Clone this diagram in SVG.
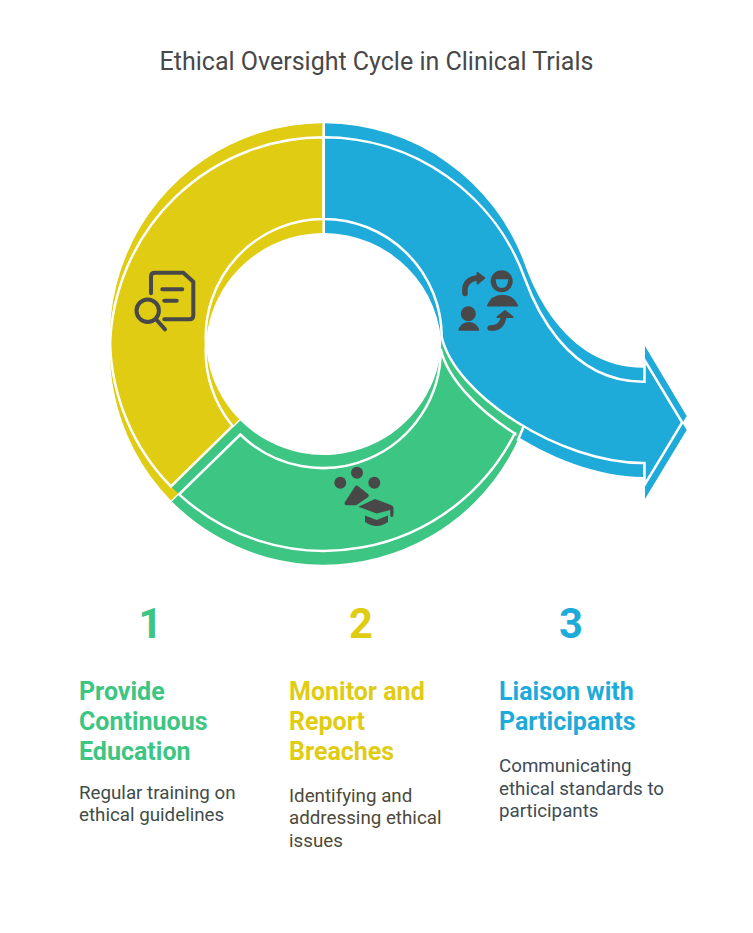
<svg xmlns="http://www.w3.org/2000/svg" width="753" height="933" viewBox="0 0 753 933">
<style>
text{font-family:Roboto,"Liberation Sans",sans-serif}
.t{font-size:25px;fill:#484848;text-anchor:middle}
.n{font-size:41.67px;font-weight:700;text-anchor:middle}
.h{font-size:25px;font-weight:700}
.d{font-size:18.75px}
.o{fill:none;stroke:#fff;stroke-width:2.5}
.y{fill:#DFCC13}.g{fill:#3DC583}.b{fill:#1EABDA}
.il{fill:none;stroke:#484848;stroke-width:4;stroke-linecap:round;stroke-linejoin:round}
.is{fill:#484848}
</style>
<rect width="753" height="933" fill="#fff"/>
<text class="t" x="376.5" y="70">Ethical Oversight Cycle in Clinical Trials</text>
<g id="node-yellow">
<path class="y" d="M322.4,123.3A213.7,213.7 0 0 0 170.9,486.4L239.3,419.5A118,118 0 0 1 322.4,219Z"/>
<path class="y" d="M322.4,137.3A213.7,213.7 0 0 0 170.9,500.4L239.3,433.5A118,118 0 0 1 322.4,233Z"/>
<path class="o" d="M323.7,137.3A213.7,213.7 0 0 0 110.1,344A213.7,213.7 0 0 0 170.9,486.4L232.6,426A118,118 0 0 1 205.9,344A118,118 0 0 1 323.7,219Z"/>
</g>
<g id="node-blue-back">
<path class="b" d="M325,137.3A213.7,213.7 0 0 1 525,279C533,301 565,381.7 643,381.7L643,477C560,477 455,409 441.7,351A118,118 0 0 0 325,233Z"/>
<path class="b" d="M645,360L686.7,430L645,499Z"/>
</g>
<g id="node-green">
<path class="g" d="M171.9,487.4A213.7,213.7 0 0 0 530,392.7L441.7,337A118,118 0 0 1 240.3,420.5Z"/>
<path class="g" d="M171.9,501.4A213.7,213.7 0 0 0 530,406.7L441.7,351A118,118 0 0 1 240.3,434.5Z"/>
<path class="o" d="M525.9,420A213.7,213.7 0 0 1 517.5,441"/>
<path class="o" d="M179.1,494.3A213.7,213.7 0 0 0 515.2,432.5L515.2,433.75C476.9,409.5 447.35,378 440.7,349A118,118 0 0 1 240.3,434.5Z"/>
</g>
<g id="node-blue">
<path class="b" d="M325,123.3A213.7,213.7 0 0 1 525,265C533,287 565,367.7 643,367.7L645,367.7L645,346L686.7,416L645,485L645,463L643,463C560,463 455,395 441.7,337A118,118 0 0 0 325,219Z"/>
<path class="o" d="M323.7,137.3A213.7,213.7 0 0 1 525,279C533,301 565,381.7 643,381.7L644.5,381.7L644.5,360L682.2,422.5L644.5,485L644.5,463L643,463C560,463 455,395 441.7,337A118,118 0 0 0 323.7,219Z"/>
</g>
<g id="icon-document-search">
<path class="il" d="M151,293.3V276.5Q151,272.7 154.8,272.7H183.3L193.3,281.7V315.5Q193.3,319.3 189.5,319.3H164.3"/>
<path class="il" d="M162.3,289.3H182.3M164.3,300.7H176.7M156.7,320L165,329.3"/>
<circle class="il" cx="147.7" cy="310.7" r="11.2"/>
</g>
<g id="icon-exchange">
<path class="il" style="stroke-width:5.5" d="M465,293.5Q463.5,280 476.7,278"/>
<path class="is" stroke="#484848" stroke-width="2" stroke-linejoin="round" d="M477.5,273L484.3,278L477.5,283.5Z"/>
<circle class="is" cx="501.7" cy="281.3" r="11"/>
<path class="b" d="M495.7,279.3H508.3Q508,288 501.7,288Q496,288 495.7,279.3Z"/>
<path class="is" d="M486.7,306Q491,294.7 502.5,294.7Q514,294.7 518.3,306Q518.5,306.5 517,306.5H488Q486.5,306.5 486.7,306Z"/>
<circle class="is" cx="468.3" cy="313.7" r="7.5"/>
<path class="is" d="M458.3,330Q461,322 468.8,322Q476.5,322 479.3,330Q479.5,330.7 478,330.7H459.5Q458,330.7 458.3,330Z"/>
<path class="il" style="stroke-width:5.5" d="M490,328Q502,329 503.8,316"/>
<path class="is" stroke="#484848" stroke-width="2" stroke-linejoin="round" d="M497.5,317L505,311L512.5,317Z"/>
</g>
<g id="icon-education">
<circle class="is" cx="340.3" cy="482.7" r="6"/>
<circle class="is" cx="357" cy="472.7" r="6"/>
<circle class="is" cx="374.3" cy="482.7" r="6"/>
<path class="is" stroke="#484848" stroke-width="4" stroke-linejoin="round" d="M356.7,487.5L366.8,495.5L355.5,503.3L346.5,503.3Z"/>
<path class="is" d="M358.3,506.7L375,499L391,505Q393.5,506 393.5,508V515Q393.5,517 391.8,517Q390.2,517 390.2,515V510L376.7,513.6Z"/>
<path class="is" d="M365,515.5L376.7,520L388,515.5V522Q382,526 376.7,526Q371,526 365,522Z"/>
</g>
<g id="step-1">
<text class="n g" x="150.5" y="638">1</text>
<text class="h g" x="79" y="700">Provide</text>
<text class="h g" x="79" y="730">Continuous</text>
<text class="h g" x="79" y="760">Education</text>
<text class="d" fill="#3F4C49" x="79" y="799">Regular training on</text>
<text class="d" fill="#3F4C49" x="79" y="821">ethical guidelines</text>
</g>
<g id="step-2">
<text class="n y" x="361" y="638">2</text>
<text class="h y" x="289" y="700">Monitor and</text>
<text class="h y" x="289" y="730">Report</text>
<text class="h y" x="289" y="760">Breaches</text>
<text class="d" fill="#4C4A38" x="289" y="802">Identifying and</text>
<text class="d" fill="#4C4A38" x="289" y="824">addressing ethical</text>
<text class="d" fill="#4C4A38" x="289" y="847">issues</text>
</g>
<g id="step-3">
<text class="n b" x="571" y="638">3</text>
<text class="h b" x="499" y="700">Liaison with</text>
<text class="h b" x="499" y="730">Participants</text>
<text class="d" fill="#3E4B54" x="499" y="772">Communicating</text>
<text class="d" fill="#3E4B54" x="499" y="795">ethical standards to</text>
<text class="d" fill="#3E4B54" x="499" y="817">participants</text>
</g>
</svg>
